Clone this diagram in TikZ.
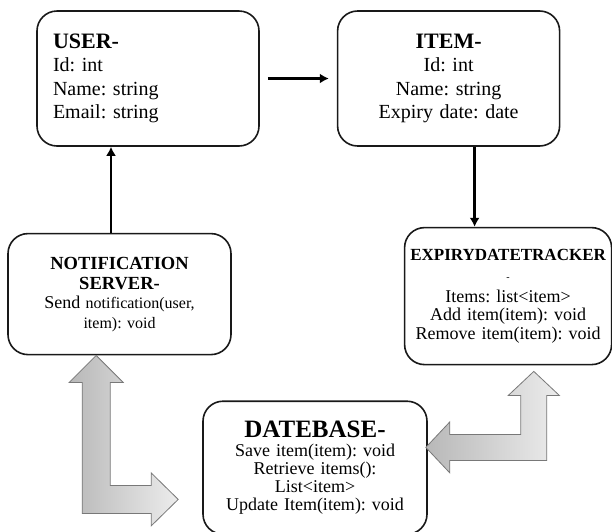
\documentclass[tikz,border=0pt]{standalone}
\usepackage{fontspec}
\setmainfont{Liberation Serif}
\frenchspacing
\usetikzlibrary{arrows.meta,positioning,calc}
\definecolor{boxInk}{RGB}{25,25,25}
\definecolor{blockDark}{RGB}{184,184,184}
\definecolor{blockLight}{RGB}{236,236,236}
\definecolor{blockLine}{RGB}{120,120,120}
\tikzset{
  classbox/.style={draw=boxInk, line width=1.6pt, rounded corners=20pt, fill=white, inner ysep=4pt},
  userbox/.style={classbox, align=left, text width=190pt, inner xsep=16pt, minimum height=135pt, font=\fontsize{20}{23.5}\selectfont},
  itembox/.style={classbox, align=center, text width=190pt, inner xsep=16pt, minimum height=135pt, font=\fontsize{20}{23.5}\selectfont},
  notifbox/.style={classbox, align=center, text width=203pt, inner xsep=10pt, minimum height=121pt, font=\fontsize{16}{20}\selectfont},
  trackbox/.style={classbox, align=center, text width=199pt, inner xsep=4pt, minimum height=137pt, font=\fontsize{18}{18.5}\selectfont},
  dbbox/.style={classbox, align=center, text width=204pt, inner xsep=10pt, minimum height=133pt, font=\fontsize{18}{18}\selectfont},
  flow/.style={-{Latex[length=9pt,width=10pt]}, line width=2.8pt, draw=black},
  blockarrow/.style={draw=blockLine, line width=0.8pt, left color=blockDark, right color=blockLight}
}

\begin{document}
\begin{tikzpicture}[x=1pt, y=1pt]
  \useasboundingbox (0,0) rectangle (612,-531);
  \node[userbox] (user) at (148,-78.5) {{\fontsize{22}{24}\selectfont\bfseries USER-}\\Id: int\\Name: string\\Email: string};
  \node[itembox, right=77pt of user] (item) {{\fontsize{22}{24}\selectfont\bfseries ITEM-}\\Id: int\\Name: string\\Expiry date: date};
  \node[notifbox, below=86pt of user, xshift=-28.5pt] (notif) {{\fontsize{18.5}{22}\selectfont\bfseries NOTIFICATION\\SERVER-}\\[-1pt]{\fontsize{18}{20}\selectfont Send} notification(user,\\item): void};
  \node[trackbox, below=80pt of item, xshift=59.5pt] (tracker) {{\fontsize{17}{18}\selectfont\bfseries EXPIRYDATETRACKER}\\[2pt]{\fontsize{10}{12}\selectfont -}\\[3pt]Items: list<item>\\Add item(item): void\\Remove item(item): void};
  \node[dbbox, below=45pt of notif, xshift=195.5pt] (db) {{\fontsize{25}{26}\selectfont\bfseries DATEBASE-}\\[1pt]Save item(item): void\\Retrieve items():\\List<item>\\Update Item(item): void};

  \draw[flow, shorten <=8pt, shorten >=8pt] (user) -- (item);
  \draw[flow] ([xshift=-8.5pt]notif.north) -- ([xshift=-8.5pt]notif.north |- user.south);
  \draw[flow] ([xshift=26pt]item.south) -- ([xshift=26pt]item.south |- tracker.north);

  % gray two-way block arrows
  \coordinate (lbend) at ($(notif.south west)+(89,-144)$);
  \coordinate (rbend) at ($(tracker.south west)+(130,-82)$);
  \draw[blockarrow, shift={(lbend)}] (0,144) -- (27,117) -- (14,117) -- (14,14) -- (55,14) -- (55,26.5) -- (82,0) -- (55,-26.5) -- (55,-14) -- (-14,-14) -- (-14,117) -- (-27,117) -- cycle;
  \draw[blockarrow, shift={(rbend)}] (0,76) -- (25.5,52) -- (13,52) -- (13,-13) -- (-84,-13) -- (-84,-25.5) -- (-108,0) -- (-84,25.5) -- (-84,13) -- (-13,13) -- (-13,52) -- (-25.5,52) -- cycle;
\end{tikzpicture}
\end{document}
